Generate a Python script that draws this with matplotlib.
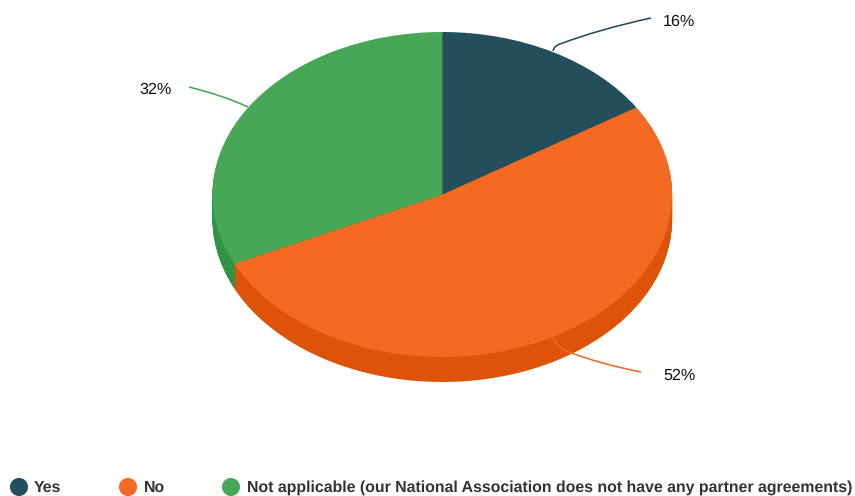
import matplotlib
matplotlib.use("Agg")
import matplotlib.pyplot as plt
from matplotlib.path import Path
from matplotlib.patches import PathPatch

categories = ["Yes", "No", "Not applicable (our National Association does not have any partner agreements)"]
values = [16, 52, 32]
labels = ["16%", "52%", "32%"]
top_colors = ["#234e5c", "#f46a22", "#47a756"]
side_colors = ["#1b3f4b", "#dc5309", "#2f9444"]

W, H = 855, 496
CX, CY, RX, RY, DEPTH = 442.3, 194.5, 229.8, 162.5, 25

plt.rcParams["font.family"] = ["Liberation Sans", "DejaVu Sans"]
plt.rcParams["text.hinting"] = "no_hinting"
fig = plt.figure(figsize=(W / 100, H / 100), dpi=100)

ax = fig.add_axes([0, 0, 1, 1])
for d in range(DEPTH, 0, -1):
    ax.pie(values, colors=side_colors, startangle=90, counterclock=False,
           center=(0, -d / RY), radius=1, frame=True)
ax.pie(values, colors=top_colors, startangle=90, counterclock=False,
       center=(0, 0), radius=1, frame=True)
ax.set_aspect("auto")
ax.set_xlim(-CX / RX, (W - CX) / RX)
ax.set_ylim((CY - H) / RY, CY / RY)
ax.axis("off")

ov = fig.add_axes([0, 0, 1, 1], facecolor="none")
ov.set_xlim(0, W)
ov.set_ylim(H, 0)
ov.axis("off")

C3 = Path.CURVE3
leaders = [
    ([(553, 51), (554, 46), (560, 44), (600, 29), (651, 18)],
     [Path.MOVETO, C3, C3, C3, C3], top_colors[0]),
    ([(553, 338), (556, 346), (566, 351), (600, 364), (641, 372)],
     [Path.MOVETO, C3, C3, C3, C3], top_colors[1]),
    ([(248, 107), (225, 96), (189, 87)],
     [Path.MOVETO, C3, C3], top_colors[2]),
]
for pts, codes, col in leaders:
    ov.add_patch(PathPatch(Path(pts, codes), fc="none", ec=col, lw=1.15))

label_pos = [(663, 22), (663, 376), (172, 90)]
for txt, (x, y), ha in zip(labels, label_pos, ["left", "left", "right"]):
    ov.text(x, y, txt, fontsize=11.6, color="#111111", ha=ha, va="center")

marker_x = [19, 128, 231]
text_x = [34, 144, 247]
ov.scatter(marker_x, [487] * 3, s=170, c=top_colors, linewidths=0)
for name, x in zip(categories, text_x):
    ov.text(x, 488, name, fontsize=11.44, fontweight="bold", color="#333333",
            ha="left", va="center")

fig.savefig("out.png", dpi=100)
